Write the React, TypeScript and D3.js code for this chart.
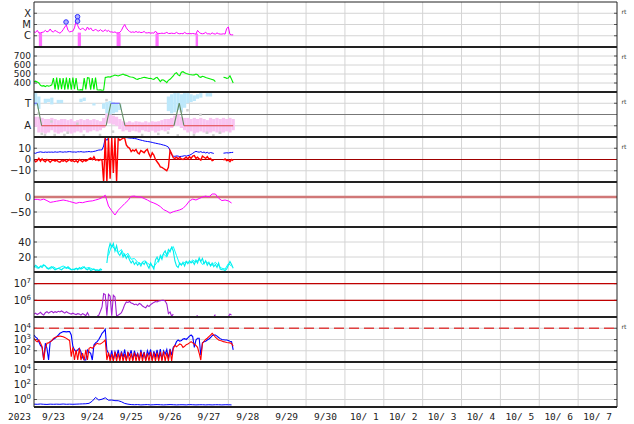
import React from 'react';
import * as d3 from 'd3';

// ---------- time frame ----------
const START = Date.UTC(2023, 8, 23);
const END = Date.UTC(2023, 9, 8);
const YEAR_LABEL = '2023';

// ---------- panel 1 : X-ray flux (µW/m², hourly from 9/23 00UT) ----------
const xrayFlux = [
  2.2, 2.0, 3.0, 1.8, 1.8, 2.0, 2.2, 3.0, 2.2, 2.5,
  4.0, 2.4, 2.2, 3.0, 2.4, 2.0, 1.7, 2.2, 3.5, 6.0,
  9.0, 3.0, 2.2, 2.4, 2.6, 5.0, 20, 8.0, 4.0, 3.5,
  5.0, 3.5, 3.0, 6.0, 3.5, 5.0, 3.0, 2.8, 4.0, 2.8,
  2.6, 3.5, 2.6, 2.5, 3.5, 2.4, 3.0, 2.2, 2.2, 2.0,
  2.2, 1.8, 1.8, 2.0, 3.0, 6.0, 10, 5.0, 3.2, 2.4,
  2.0, 2.2, 2.0, 2.4, 2.0, 2.2, 1.9, 2.0, 2.4, 1.8,
  1.8, 1.9, 1.7, 1.8, 1.7, 2.6, 1.7, 1.6, 1.6, 1.7,
  1.6, 1.7, 2.0, 1.6, 1.6, 1.7, 1.6, 1.6, 2.0, 1.6,
  1.5, 1.6, 1.5, 2.0, 1.6, 1.5, 1.6, 1.5, 1.6, 1.5,
  1.4, 3.0, 2.0, 1.6, 1.5, 1.6, 2.0, 1.5, 1.5, 1.4,
  1.8, 1.5, 1.4, 1.8, 1.5, 1.4, 1.4, 1.5, 1.4, 4.5,
  6.0, 1.3, 1.2, 1.2,
];
const xrayGapStart = [3, 27, 51, 75, 99.8];
const xrayGapEnd = [5, 29, 53.5, 77, 101.3];
const xrayGapTop = [1.7, 1.9, 1.7, 1.6, 1.5];
const flareHours = [19.8, 26.9, 26.9];
const flareFlux = [16.6, 49, 20];
const xrayTicks = [100, 10, 1];
const xrayTickLabels = ['X', 'M', 'C'];

// ---------- panel 2 : solar wind speed (km/s, hourly) ----------
const windSpeed = [
  415, 420, 410, 400, 375, 365, 370, 360, 372, 365,
  370, 380, 455, 330, 460, 325, 455, 332, 455, 325,
  460, 330, 455, 325, 460, 332, 455, 325, 322, 326,
  322, 455, 330, 460, 455, 325, 455, 330, 460, 325,
  322, 324, 320, 322, 462, 465, 470, 466, 475, 480,
  489, 484, 478, 485, 492, 500, 490, 485, 478, 470,
  466, 463, 455, 445, 441, 450, 452, 458, 463, 460,
  455, 450, 452, 445, 441, 455, 463, 440, 415, 435,
  433, 420, 404, 430, 441, 460, 478, 505, 515, 490,
  480, 520, 526, 515, 505, 500, 495, 492, 489, 490,
  500, 492, 470, 463, 475, 470, 460, 455, 450, 445,
  440, 433, 415, null, null, null, null, 463, 460, 452,
  455, 480, 441, 400,
];
const windTicks = [700, 600, 500, 400];

// ---------- panel 3 : T / A state (2-hour bins) ----------
const blueLo = [0.9, 0.75, null, 1.0, 1.05, 0.95, null, 1.0, 1.0, null, null, null, null, null, 1.05, 1.1, null, null, 0.9, null, null, 0.75, 0.55, 0.5, 0.55, 0.6, 0.7,
  null, null, null, null, null, null, null, null, null, null, null, null, null, null,
  0.65, 0.55, 0.6, 0.7, 0.6, 0.8, 1.0, 1.05, 1.1, 1.2, 1.25, null, 1.3, 1.3,
  null, null, null, null, null, null, null];
const blueHi = [1.45, 1.3, null, 1.2, 1.2, 1.25, null, 1.15, 1.15, null, null, null, null, null, 1.2, 1.25, null, null, 1.0, null, null, 1.0, 1.05, 1.1, 1.05, 1.0, 0.95,
  null, null, null, null, null, null, null, null, null, null, null, null, null, null,
  1.3, 1.4, 1.45, 1.45, 1.4, 1.45, 1.45, 1.4, 1.35, 1.4, 1.45, null, 1.45, 1.45,
  null, null, null, null, null, null, null];
const pinkLo = [-0.05, -0.3, -0.3, -0.35, -0.3, -0.2, -0.3, -0.35, -0.3, -0.25,
  -0.3, -0.35, -0.3, -0.25, -0.3, -0.2, -0.3, -0.25, -0.2, -0.25,
  -0.2, -0.1, 0.1, 0.1, 0.05, 0.0, -0.15, -0.25, -0.2, -0.28,
  -0.22, -0.25, -0.3, -0.2, -0.25, -0.28, -0.22, -0.3, -0.25, -0.2,
  -0.25, -0.2, -0.1, 0.0, 0.0, -0.1, -0.2, -0.3, -0.25, -0.35,
  -0.3, -0.25, -0.3, -0.35, -0.3, -0.25, -0.3, -0.35, -0.3, -0.25,
  -0.3, -0.2];
const pinkHi = [0.4, 0.4, 0.35, 0.3, 0.3, 0.35, 0.3, 0.25, 0.3, 0.3,
  0.25, 0.3, 0.2, 0.25, 0.3, 0.25, 0.3, 0.25, 0.3, 0.25,
  0.2, 0.35, 0.55, 0.5, 0.45, 0.4, 0.3, 0.2, 0.15, 0.2,
  0.15, 0.2, 0.18, 0.15, 0.2, 0.15, 0.2, 0.18, 0.2, 0.25,
  0.3, 0.3, 0.35, 0.45, 0.5, 0.4, 0.35, 0.35, 0.3, 0.35,
  0.3, 0.35, 0.3, 0.25, 0.35, 0.3, 0.35, 0.3, 0.35, 0.3,
  0.35, 0.3];
const grayHours = [2, 4, 6, 10, 12, 18, 20, 26, 30, 40, 44, 48, 66, 76, 82, 88, 90, 94, 98, 102, 106, 110, 114];
const grayVals = [0.55, -0.35, -0.4, 0.2, -0.4, -0.4, -0.3, 0.1, -0.42, -0.4, 1.15, -0.25, -0.4, -0.35, -0.3, -0.42, 0.65, 0.7, -0.4, 0.5, -0.3, -0.42, -0.3];
const stateHours = [0, 2, 4.7, 44.5, 47.5, 53, 56.2, 86.4, 89.7, 92.6, 123];
const stateVals = [1, 1, 0, 0, 1, 1, 0, 0, 1, 0, 0];
const stateTicks = [1, 0];
const stateTickLabels = ['T', 'A'];

// ---------- panel 4 : IMF Bt / Bz (nT, hourly) ----------
const bt = [
  5.8, 5.5, 6.2, 6.5, 6.8, 6.5, 6.3, 6.6, 6.4, 6.6,
  6.5, 6.6, 6.4, 6.8, 6.5, 6.6, 6.9, 6.7, 6.5, 6.8,
  6.6, 6.9, 7.0, 6.8, 6.6, 6.7, 6.5, 6.9, 6.8, 7.0,
  6.7, 6.6, 6.8, 6.9, 7.1, 6.8, 6.9, 7.2, 7.5, 8.0,
  8.4, 8.5, 8.6, 12, 19, 17, 19.5, 20, 19, 20,
  20, 19.5, 20, 19.8, 19.5, 20, 19.6, 19.5, 19.3, 19.0,
  19.0, 18.8, 18.6, 18.5, 18.0, 17.6, 17.2, 16.9, 16.5, 16.2,
  16.0, 15.8, 15.5, 15.2, 14.8, 14.5, 14.2, 13.9, 13.6, 13.2,
  12.8, 12.5, 11.8, 11.0, 8.0, 4.0, 3.0, 2.8, 3.2, 3.0,
  2.6, 2.8, 3.0, 3.4, 3.0, 3.5, 3.8, 4.5, 5.5, 6.5,
  7.2, 6.8, 6.5, 7.0, 6.2, 6.6, 5.8, 6.4, 5.5, 6.2,
  5.8, 5.4, null, null, null, null, null, 5.6, 5.8, 6.0,
  5.8, 6.1, 6.2, 6.4,
];
const bz = [
  -0.5, -2, -1, 1, -1.5, 0.5, -1, -2, 0, -1,
  -2.5, -1, -0.5, -1.5, -0.5, -2, -2.5, -1, -1.5, -0.5,
  -2, -1, 0, -1.5, -1, -2, -1, -2.5, 0, -1,
  -2, -0.5, -1.5, -0.5, 0.5, 1.5, 0, 2.5, -0.5, 0,
  -1, 0, -0.5, -20, 19, -20, 19, -17, 19, -12,
  19, -19, 19, 17, 18, 19, 19, 13, 11, 10,
  7, 8.5, 7.5, 9, 6, 5, 8, 7, 6, 8,
  9, 5, 2, 6, 4, 0, -2, -4, -6.5, -7,
  -8, -9, -10, -7, 8, 5, 1.5, 1, 2, 0.5,
  2, 0.5, 0, 1, 2, 0.5, 2.5, 1, 3, 3.5,
  1, 2, 0.5, -0.5, 3, 2, 1, 2.5, 0.5, 1,
  -1, -0.5, null, null, null, null, null, -0.5, 0.5, -1,
  -0.5, -2, 0, -1,
];
const imfTicks = [10, 0, -10];

// ---------- panel 5 : Dst (nT, 2-hourly) ----------
const dst = [
  -8, -8, -10, -7, -12, -18, -16, -14, -12, -10,
  -12, -15, -18, -21, -18, -19, -16, -14, -13, -10,
  -7, -2, 6, -30, -46, -60, -44, -33, -22, -12,
  2, 3, 0, 0, -5, -10, -16, -20, -25, -32,
  -42, -47, -54, -49, -46, -43, -38, -27, -13, -7,
  -10, -5, 0, 3, 0, 10, 10, -4, -12, -10,
  -13, -20,
];
const dstTicks = [0, -50];

// ---------- panel 6 : proton density (/cc) ----------
const densityA = [
  6, 9, 7, 5, 8, 6, 9, 8, 5, 4,
  6, 7, 5, 3, 4, 5, 4, 3, 5, 6,
  5, 7, 5, 3, 4, 3, 5, 3, 6, 4,
  5, 7, 4, 3, 5, 2, 3, 4, 2, 3,
  2, 4, 3, null, null, 12, 30, 38, 33, 38,
  28, 35, 25, 22, 27, 20, 24, 18, 22, 16,
  12, 15, 10, 13, 9, 12, 8, 13, 10, 14,
  9, 5, 12, 8, 4, 16, 20, 14, 22, 17,
  25, 28, 22, 30, 27, 33, 28, 15, 8, 6,
  12, 9, 13, 8, 14, 11, 15, 12, 14, 10,
  16, 12, 19, 14, 18, 11, 15, 9, 13, 8,
  12, 7, 10, 6, 12, 4, 3, 3, 2, 4,
  9, 14, 10, 5,
];
const densityB = [
  8, 5, 7, 10, 6, 4, 7, 4, 6, 8,
  6, 4, 3, 5, 4, 7, 5, 6, 4, 3,
  2, 3, null, 22, 36, 30, 26, 30, 21, 25,
  17, 18, 13, 11, 15, 12, 9, 7, 13, 19,
  24, 20, 30, 34, 22, 10, 11, 14, 12, 16,
  13, 17, 10, 14, 11, 9, 13, 8, 5, 4,
  11, 8,
];
const densTicks = [40, 20];

// ---------- panel 7 : electron flux (hourly) ----------
const electron = [
  1.5e5, 1.7e5, 1.4e5, 1.6e5, 1.9e5, 1.5e5, 1.3e5, 1.8e5, 2.1e5, 1.7e5,
  2.0e5, 2.2e5, 1.8e5, 2.1e5, 1.9e5, 2.2e5, 2.0e5, 2.3e5, 2.0e5, 1.7e5,
  2.1e5, 1.8e5, 1.6e5, 1.5e5, 1.7e5, 1.5e5, 1.4e5, 1.6e5, 1.5e5, 1.3e5,
  1.6e5, 1.4e5, 1.2e5, 1.8e5, 1.2e5, null, null, null, null, 1.1e5,
  1.3e5, 2.2e5, 4e5, 2.5e6, 2.2e6, 1.2e5, 2.3e6, 1.8e6, 1.2e5, 2.0e6,
  1.6e6, 1.1e5, 1.3e5, 1.5e5, 1.8e5, 3.0e5, 5.5e5, 8.0e5, 7.5e5, 8.5e5,
  7.0e5, 6.5e5, 5.5e5, 6.0e5, 5.0e5, 6.5e5, 5.8e5, 4.5e5, 4.0e5, 3.6e5,
  5.0e5, 4.2e5, 5.5e5, 6.5e5, 7.5e5, 8.5e5, 8.0e5, 9.0e5, 9.5e5, 1.0e6,
  1.0e6, 9.0e5, 6.0e5, 1.6e5, 2.0e5, 1.1e5, 1.5e5, null, null, null,
  null, null, null, null, null, null, null, null, null, null,
  1.02e5, 1.25e5, null, null, null, null, null, null, null, null,
  null, 1.02e5, 1.4e5, null, null, null, null, null, null, null,
  1.05e5, 1.5e5, 1.3e5, null,
];
const electronTicks = [1e7, 1e6];
const electronTickExp = ['7', '6'];

// ---------- panel 8 : proton flux (hourly) ----------
const protonBlue = [
  2500, 1600, 1260, 640, 300, 200, 15, 460, 165, 15,
  640, 800, 1040, 1300, 1780, 2500, 3550, 4200, 5000, 5000,
  4800, 5000, 5000, 2500, 250, 120, 83, 120, 170, 80,
  25, 15, 15, 117, 80, 59, 15, 320, 500, 640,
  1000, 1800, 3550, 5000, 8000, 117, 60, 20, 110, 15,
  80, 30, 120, 18, 90, 25, 130, 15, 70, 40,
  110, 15, 100, 30, 60, 15, 120, 25, 80, 15,
  100, 40, 130, 15, 90, 30, 120, 20, 140, 15,
  100, 50, 130, 20, 150, 40, 200, 300, 640, 910,
  700, 800, 1100, 1200, 1000, 1400, 2000, 2500, 1800, 200,
  900, 1300, 1300, 40, 500, 640, 700, 900, 1100, 1500,
  2200, 2500, 2500, 2000, 1500, 1200, 1000, 950, 900, 900,
  800, 700, 640, 120,
];
const protonRed = [
  1260, 800, 640, 900, 500, 230, 15, 165, 460, 500,
  640, 800, 1260, 1500, 1780, 1900, 2050, 1900, 1780, 1500,
  1260, 1000, 800, 30, 200, 15, 120, 15, 170, 15,
  60, 15, 120, 15, 165, 200, 165, 230, 350, 460,
  400, 400, 500, 640, 900, 15, 70, 12, 50, 12,
  80, 12, 60, 12, 70, 12, 50, 12, 80, 12,
  60, 12, 70, 12, 60, 12, 80, 12, 70, 12,
  60, 12, 80, 12, 70, 12, 70, 12, 80, 12,
  90, 12, 70, 12, 120, 12, 150, 300, 230, 300,
  400, 350, 200, 250, 350, 400, 500, 640, 500, 400,
  300, 200, 60, 15, 450, 700, 1000, 1300, 1800, 2500,
  3500, 2500, 1600, 1200, 900, 800, 750, 650, 600, 550,
  520, 500, 450, 250,
];
const protonTicks = [1e4, 1e3, 1e2];
const protonTickExp = ['4', '3', '2'];
const protonThreshold = 1e4;

// ---------- panel 9 : low flux (2-hourly) ----------
const lowFlux = [
  0.24, 0.23, 0.25, 0.23, 0.22, 0.24, 0.23, 0.24, 0.23, 0.25,
  0.23, 0.24, 0.23, 0.24, 0.25, 0.26, 0.27, 0.31, 0.6, 1.9,
  0.85, 1.1, 1.7, 0.8, 0.85, 0.7, 0.69, 0.5, 0.3, 0.24,
  0.21, 0.2, 0.21, 0.19, 0.2, 0.21, 0.19, 0.2, 0.21, 0.2,
  0.19, 0.2, 0.21, 0.2, 0.19, 0.2, 0.2, 0.19, 0.21, 0.2,
  0.19, 0.2, 0.2, 0.19, 0.2, 0.19, 0.2, 0.2, 0.19, 0.2,
  0.2, 0.19,
];
const lowTicks = [1e4, 1e2, 1];
const lowTickExp = ['4', '2', '0'];

// ---------- layout ----------
const X0 = 34, X1 = 617;
const TOP = 2, PH = 45, NP = 9;
const pTop = (i: number) => TOP + i * PH;
const pBot = (i: number) => TOP + (i + 1) * PH;

const x = d3.scaleUtc().domain([new Date(START), new Date(END)]).range([X0, X1]);
const hx = (h: number) => x(new Date(START + h * 3600000));

const yX = d3.scaleLog().domain([0.1, 1000]).range([pBot(0), pTop(0)]);
const yW = d3.scaleLinear().domain([300, 800]).range([pBot(1), pTop(1)]);
const yS = d3.scaleLinear().domain([-0.5, 1.5]).range([pBot(2), pTop(2)]);
const yB = d3.scaleLinear().domain([-20, 20]).range([pBot(3), pTop(3)]);
const yD = d3.scaleLinear().domain([-100, 50]).range([pBot(4), pTop(4)]);
const yN = d3.scaleLinear().domain([0, 60]).range([pBot(5), pTop(5)]);
const yE = d3.scaleLog().domain([1e5, 5e7]).range([pBot(6), pTop(6)]);
const yP = d3.scaleLog().domain([10, 1e5]).range([pBot(7), pTop(7)]);
const yL = d3.scaleLog().domain([0.1, 1e5]).range([pBot(8), pTop(8)]);

function seriesPath(vals: (number | null)[], step: number, y: (v: number) => number) {
  const gen = d3
    .line<number | null>()
    .defined((v) => v !== null && v !== undefined)
    .x((_, i) => hx(i * step))
    .y((v) => y(v as number));
  return gen(vals) || '';
}

const FONT = 'DejaVu Sans, sans-serif';
const GRID = '#d4d4d4';

function HGrid({ vals, y }: { vals: number[]; y: (v: number) => number }) {
  return (
    <g>
      {vals.map((v, i) => (
        <g key={i}>
          <line x1={X0} x2={X1} y1={y(v)} y2={y(v)} stroke={GRID} strokeWidth={1} />
          <line x1={X0} x2={X0 + 3} y1={y(v)} y2={y(v)} stroke="#555" strokeWidth={1} />
          <line x1={X1 - 3} x2={X1} y1={y(v)} y2={y(v)} stroke="#555" strokeWidth={1} />
        </g>
      ))}
    </g>
  );
}

function Labels({ vals, labels, y, size = 10 }: { vals: number[]; labels: string[]; y: (v: number) => number; size?: number }) {
  return (
    <g fontFamily={FONT} fontSize={size} fill="#222" textAnchor="end">
      {vals.map((v, i) => (
        <text key={i} x={31} y={y(v)} dy="0.36em">{labels[i]}</text>
      ))}
    </g>
  );
}

function PowLabels({ vals, exps, y }: { vals: number[]; exps: string[]; y: (v: number) => number }) {
  return (
    <g fontFamily={FONT} fontSize={10} fill="#222" textAnchor="end">
      {vals.map((v, i) => (
        <text key={i} x={31} y={y(v)} dy="0.36em">
          10<tspan dy="-4" fontSize={7}>{exps[i]}</tspan>
        </text>
      ))}
    </g>
  );
}

export default function App() {
  const days = d3.utcDay.range(new Date(START), new Date(END));
  const fmt = (d: Date) => {
    const m = d.getUTCMonth() + 1;
    const dd = d.getUTCDate();
    return `${m}/${dd < 10 ? ' ' + dd : dd}`;
  };
  const minus = (v: number) => (v < 0 ? '\u2212' + Math.abs(v) : String(v));

  const stateSegs = stateHours.slice(0, -1).map((h, i) => {
    const a = stateVals[i], b = stateVals[i + 1];
    const color = a === 1 && b === 1 ? '#6060ff' : a === 0 && b === 0 ? '#e04040' : '#5f8a5f';
    return { x1: hx(h), x2: hx(stateHours[i + 1]), y1: yS(a), y2: yS(b), color };
  });

  return (
    <div style={{ position: 'fixed', left: 0, top: 0 }}>
      <svg width={634} height={424} style={{ display: 'block', background: '#fff' }}>
        <defs>
          {d3.range(NP).map((i) => (
            <clipPath id={'clip' + i} key={i}>
              <rect x={X0} y={pTop(i)} width={X1 - X0} height={PH} />
            </clipPath>
          ))}
        </defs>

        {/* vertical day grid */}
        {days.slice(1).map((d, i) => (
          <line key={i} x1={x(d)} x2={x(d)} y1={TOP} y2={pBot(8)} stroke={GRID} strokeWidth={1} />
        ))}

        {/* horizontal grids */}
        <HGrid vals={xrayTicks} y={yX} />
        <HGrid vals={windTicks} y={yW} />
        <HGrid vals={stateTicks} y={yS} />
        <HGrid vals={[10, -10]} y={yB} />
        <HGrid vals={[-50]} y={yD} />
        <HGrid vals={densTicks} y={yN} />
        <HGrid vals={electronTicks} y={yE} />
        <HGrid vals={protonTicks} y={yP} />
        <HGrid vals={lowTicks} y={yL} />

        {/* panel 1: X-ray */}
        <g clipPath="url(#clip0)">
          {xrayGapStart.map((s, i) => (
            <rect key={i} x={hx(s)} width={hx(xrayGapEnd[i]) - hx(s)} y={yX(xrayGapTop[i])}
              height={pBot(0) - yX(xrayGapTop[i])} fill="#ff70ff" />
          ))}
          <path d={seriesPath(xrayFlux, 1, yX)} fill="none" stroke="#ff00ff" strokeWidth={1} />
          {flareHours.map((h, i) => (
            <circle key={i} cx={hx(h)} cy={yX(flareFlux[i])} r={2.3} fill="#b0b0ff" stroke="#3030ff" strokeWidth={1} />
          ))}
        </g>

        {/* panel 2: wind */}
        <g clipPath="url(#clip1)">
          <path d={seriesPath(windSpeed, 1, yW)} fill="none" stroke="#00ee00" strokeWidth={1.1} />
        </g>

        {/* panel 3: state */}
        <g clipPath="url(#clip2)">
          <line x1={X0} x2={X1} y1={yS(0.5)} y2={yS(0.5)} stroke="#777" strokeWidth={1} />
          {pinkLo.map((lo, i) =>
            lo === null || pinkHi[i] === null ? null : (
              <rect key={'p' + i} x={hx(i * 2)} width={hx(i * 2 + 2) - hx(i * 2)} y={yS(pinkHi[i] as number)}
                height={yS(lo) - yS(pinkHi[i] as number)} fill="#f9c4f2" />
            )
          )}
          {blueLo.map((lo, i) =>
            lo === null || blueHi[i] === null ? null : (
              <rect key={'b' + i} x={hx(i * 2)} width={hx(i * 2 + 2) - hx(i * 2)} y={yS(blueHi[i] as number)}
                height={yS(lo) - yS(blueHi[i] as number)} fill="#bde8fb" />
            )
          )}
          {grayHours.map((h, i) => (
            <rect key={'g' + i} x={hx(h)} y={yS(grayVals[i]) - 1} width={2.5} height={2.5} fill="#cfcfcf" />
          ))}
          {stateSegs.map((s, i) => (
            <line key={i} x1={s.x1} x2={s.x2} y1={s.y1} y2={s.y2} stroke={s.color} strokeWidth={1.1} />
          ))}
        </g>

        {/* panel 4: IMF */}
        <g clipPath="url(#clip3)">
          <line x1={X0} x2={X1} y1={yB(0)} y2={yB(0)} stroke="#a00000" strokeWidth={1} />
          <path d={seriesPath(bt, 1, yB)} fill="none" stroke="#0000ff" strokeWidth={1} />
          <path d={seriesPath(bz, 1, yB)} fill="none" stroke="#ff0000" strokeWidth={1.4} />
        </g>

        {/* panel 5: Dst */}
        <g clipPath="url(#clip4)">
          <line x1={X0} x2={X1} y1={yD(0)} y2={yD(0)} stroke="#d07878" strokeWidth={2.3} />
          <path d={seriesPath(dst, 2, yD)} fill="none" stroke="#ff00ff" strokeWidth={1} />
        </g>

        {/* panel 6: density */}
        <g clipPath="url(#clip5)">
          <path d={seriesPath(densityB, 2, yN)} fill="none" stroke="#00ffff" strokeWidth={1} />
          <path d={seriesPath(densityA, 1, yN)} fill="none" stroke="#00eeee" strokeWidth={1.1} />
        </g>

        {/* panel 7: electrons */}
        <g clipPath="url(#clip6)">
          {electronTicks.map((v, i) => (
            <line key={i} x1={X0} x2={X1} y1={yE(v)} y2={yE(v)} stroke="#c00000" strokeWidth={1.2} />
          ))}
          <path d={seriesPath(electron, 1, yE)} fill="none" stroke="#a020d0" strokeWidth={1.1} />
        </g>

        {/* panel 8: protons */}
        <g clipPath="url(#clip7)">
          <line x1={X0} x2={X1} y1={yP(protonThreshold)} y2={yP(protonThreshold)} stroke="#e04040"
            strokeWidth={1.4} strokeDasharray="10,5" />
          <path d={seriesPath(protonBlue, 1, yP)} fill="none" stroke="#0000ff" strokeWidth={1.1} />
          <path d={seriesPath(protonRed, 1, yP)} fill="none" stroke="#ff0000" strokeWidth={1.1} />
        </g>

        {/* panel 9 */}
        <g clipPath="url(#clip8)">
          <path d={seriesPath(lowFlux, 2, yL)} fill="none" stroke="#0000ff" strokeWidth={1} />
        </g>

        {/* frame */}
        <line x1={X0} x2={X0} y1={TOP} y2={pBot(8)} stroke="#222" strokeWidth={1} />
        <line x1={X1} x2={X1} y1={TOP} y2={pBot(8)} stroke="#222" strokeWidth={1} />
        <line x1={X0} x2={X1} y1={TOP} y2={TOP} stroke="#222" strokeWidth={1} />
        {d3.range(1, NP + 1).map((i) => (
          <line key={i} x1={X0} x2={X1} y1={pTop(i)} y2={pTop(i)} stroke="#222" strokeWidth={2} />
        ))}

        {/* left labels */}
        <Labels vals={xrayTicks} labels={xrayTickLabels} y={yX} />
        <Labels vals={windTicks} labels={windTicks.map(String)} y={yW} size={9} />
        <Labels vals={stateTicks} labels={stateTickLabels} y={yS} />
        <Labels vals={imfTicks} labels={imfTicks.map(minus)} y={yB} />
        <Labels vals={dstTicks} labels={dstTicks.map(minus)} y={yD} />
        <Labels vals={densTicks} labels={densTicks.map(String)} y={yN} />
        <PowLabels vals={electronTicks} exps={electronTickExp} y={yE} />
        <PowLabels vals={protonTicks} exps={protonTickExp} y={yP} />
        <PowLabels vals={lowTicks} exps={lowTickExp} y={yL} />

        {/* right "rt" markers */}
        <g fontFamily={FONT} fontSize={6} fill="#333">
          {[0, 1, 2, 3, 7].map((i) => (
            <text key={i} x={621.5} y={pTop(i) + 11.5}>rt</text>
          ))}
        </g>

        {/* bottom date labels */}
        <g fontFamily="DejaVu Sans Mono, monospace" fontSize={9.5} fill="#222">
          <text x={31} y={419.5} textAnchor="end">{YEAR_LABEL}</text>
          {days.map((d, i) => (
            <text key={i} x={x(new Date(d.getTime() + 12 * 3600000))} y={419.5} textAnchor="middle"
              style={{ whiteSpace: 'pre' }}>{fmt(d)}</text>
          ))}
        </g>
      </svg>
    </div>
  );
}
